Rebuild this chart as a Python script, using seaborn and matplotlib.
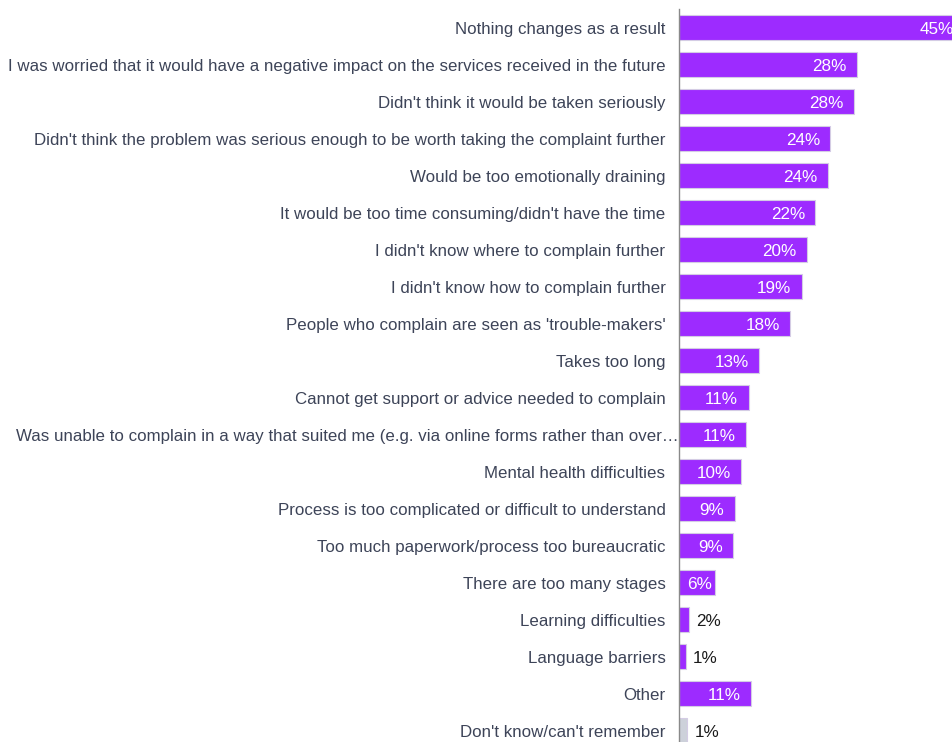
import matplotlib
matplotlib.use("Agg")
import matplotlib.pyplot as plt
import matplotlib.transforms as mtransforms
import seaborn as sns
import pandas as pd

categories = [
    "Nothing changes as a result",
    "I was worried that it would have a negative impact on the services received in the future",
    "Didn't think it would be taken seriously",
    "Didn't think the problem was serious enough to be worth taking the complaint further",
    "Would be too emotionally draining",
    "It would be too time consuming/didn't have the time",
    "I didn't know where to complain further",
    "I didn't know how to complain further",
    "People who complain are seen as 'trouble-makers'",
    "Takes too long",
    "Cannot get support or advice needed to complain",
    "Was unable to complain in a way that suited me (e.g. via online forms rather than over\u2026",
    "Mental health difficulties",
    "Process is too complicated or difficult to understand",
    "Too much paperwork/process too bureaucratic",
    "There are too many stages",
    "Learning difficulties",
    "Language barriers",
    "Other",
    "Don't know/can't remember",
]
values = [45.3, 28.2, 27.7, 24.0, 23.6, 21.6, 20.3, 19.4, 17.6, 12.7,
          11.0, 10.6, 9.8, 8.8, 8.6, 5.6, 1.6, 1.0, 11.4, 1.3]
purple = "#9D2BFF"
grey = "#CDD1DA"
colors = [purple] * 19 + [grey]

df = pd.DataFrame({"reason": categories, "share": values})

sns.set_theme(style="white")
plt.rcParams["font.family"] = ["Liberation Sans", "DejaVu Sans"]

W, H, DPI = 953, 742, 100
fig = plt.figure(figsize=(W / DPI, H / DPI), dpi=DPI)
ax_left = 679.3 / W
ax_top = 1 - 9.2 / H
ax_bottom = -7.0 / H
ax = fig.add_axes([ax_left, ax_bottom, 1 - ax_left, ax_top - ax_bottom])

sns.barplot(data=df, x="share", y="reason", hue="reason", palette=colors,
            legend=False, width=0.68, edgecolor="#D4CCE4", linewidth=0.8,
            ax=ax, saturation=1)

px_per_unit = 6.3
ax.set_xlim(0, (W - 679.3) / px_per_unit)
ax.set_ylim(len(categories) - 0.5, -0.5)

for s in ["top", "right", "bottom"]:
    ax.spines[s].set_visible(False)
ax.spines["left"].set_color("#8a8a8a")
ax.spines["left"].set_linewidth(1.0)
ax.set_xticks([])
ax.set_xlabel("")
ax.set_ylabel("")
ax.tick_params(axis="y", length=0, pad=10, labelsize=12.2, labelcolor="#3D4458")

# the long truncated label runs a little closer to the axis
for lbl in ax.get_yticklabels():
    if lbl.get_text().startswith("Was unable"):
        off = mtransforms.ScaledTranslation(13 / DPI, 0, fig.dpi_scale_trans)
        lbl.set_transform(lbl.get_transform() + off)

for i, v in enumerate(values):
    txt = f"{v:.0f}%"
    if v >= 8:
        ax.annotate(txt, (v, i), xytext=(-7.5, -1.5), textcoords="offset points",
                    ha="right", va="center", color="white", fontsize=12.3,
                    annotation_clip=False)
    elif v >= 4:
        ax.annotate(txt, (v / 2, i), xytext=(2, -1.5), textcoords="offset points",
                    ha="center", va="center", color="white", fontsize=12.3)
    else:
        ax.annotate(txt, (v, i), xytext=(5, -1.5), textcoords="offset points",
                    ha="left", va="center", color="#1a1a1a", fontsize=12.3)

fig.savefig("out.png", dpi=DPI)
